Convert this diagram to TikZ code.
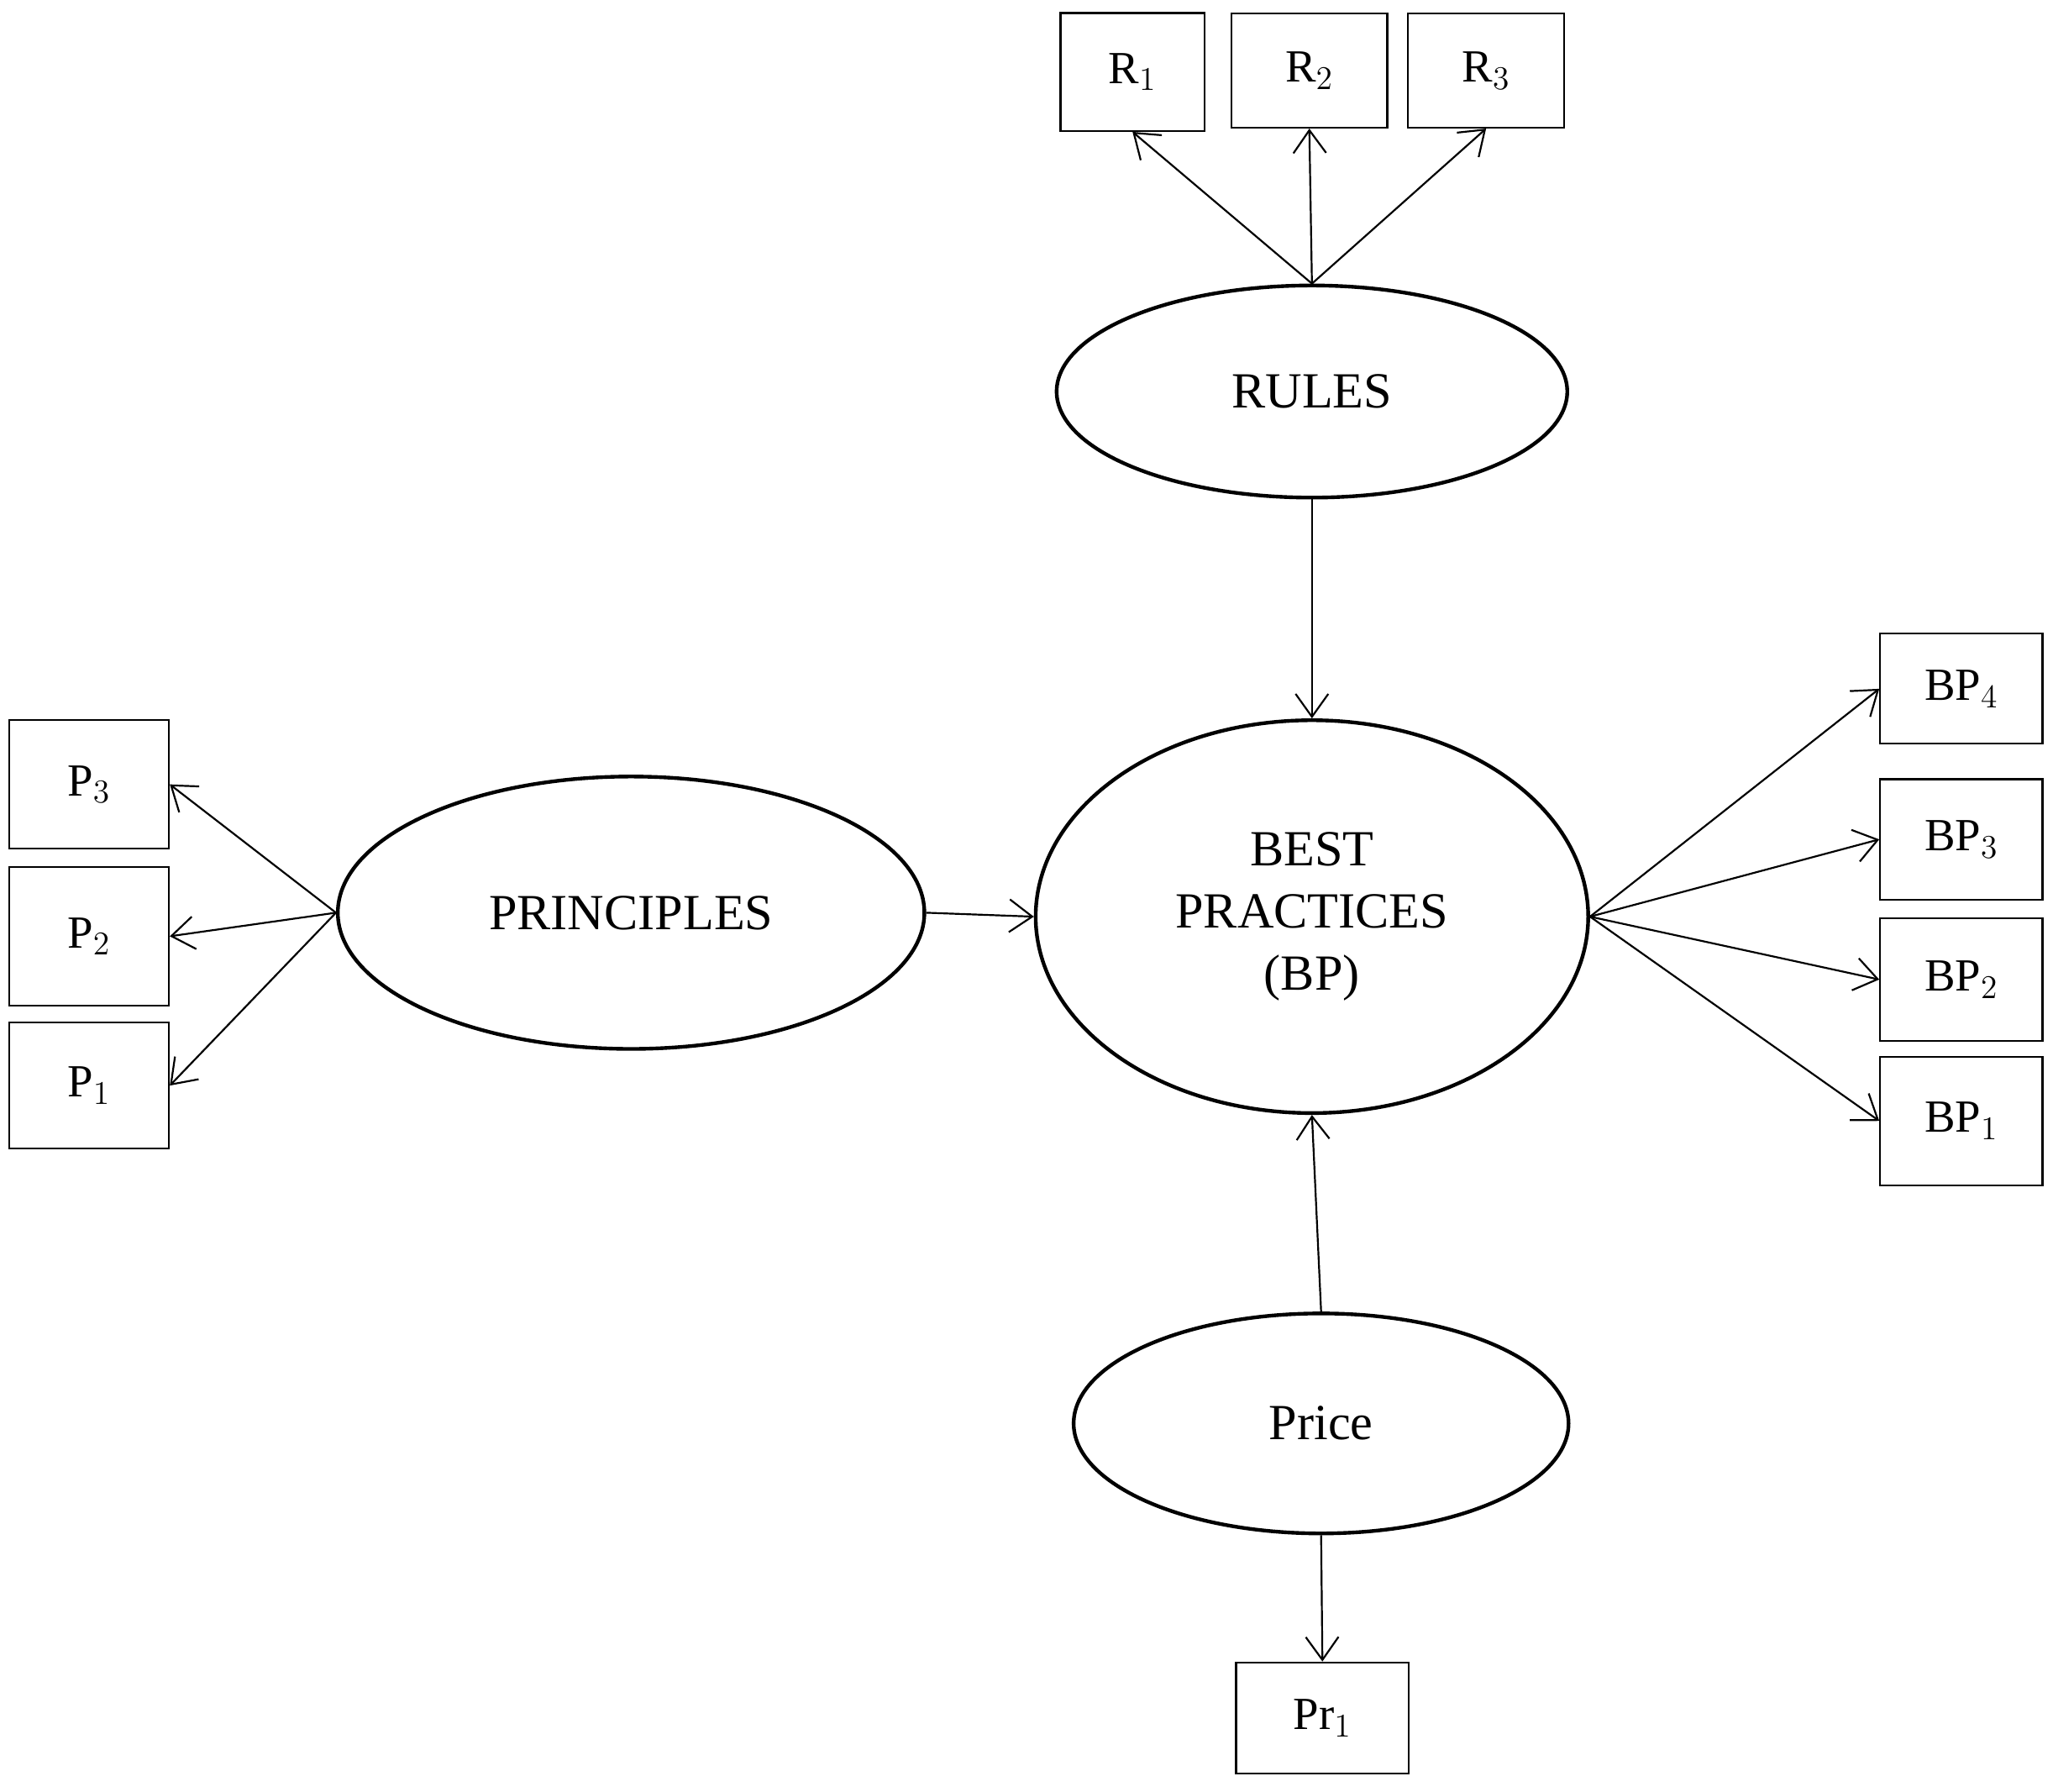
\documentclass[tikz,border=0pt]{standalone}
\usepackage{fontspec}
\setmainfont{Liberation Serif}
\usetikzlibrary{arrows.meta,shapes.geometric}

\tikzset{
	box/.style={draw, thick, inner sep=0pt, font=\fontsize{20}{22}\selectfont},
	oval/.style={draw, ellipse, line width=1.6pt, inner sep=0pt, font=\fontsize{22}{27}\selectfont, align=center},
	link/.style={->, line width=0.8pt}
}

\begin{document}
\begin{tikzpicture}[x=0.02cm, y=-0.02cm, >={Straight Barb[length=3.5mm,width=5mm]}]

\useasboundingbox (0,0) rectangle (1568,1368);

% ellipses
\node[oval, minimum width=390*0.02cm, minimum height=162*0.02cm] (rules) at (1002,299) {RULES};
\node[oval, minimum width=422*0.02cm, minimum height=300*0.02cm] (bp) at (1002,700) {BEST\\PRACTICES\\(BP)};
\node[oval, minimum width=448*0.02cm, minimum height=208*0.02cm] (prin) at (482,697) {PRINCIPLES};
\node[oval, minimum width=378*0.02cm, minimum height=168*0.02cm] (price) at (1009,1087) {Price};

% boxes
\node[box, minimum width=110*0.02cm, minimum height=90*0.02cm] (r1) at (865,55) {R$_1$};
\node[box, minimum width=119*0.02cm, minimum height=87*0.02cm] (r2) at (1000,54) {R$_2$};
\node[box, minimum width=119*0.02cm, minimum height=87*0.02cm] (r3) at (1135,54) {R$_3$};

\node[box, minimum width=122*0.02cm, minimum height=98*0.02cm] (p3) at (68,599) {P$_3$};
\node[box, minimum width=122*0.02cm, minimum height=106*0.02cm] (p2) at (68,715) {P$_2$};
\node[box, minimum width=122*0.02cm, minimum height=96*0.02cm] (p1) at (68,829) {P$_1$};

\node[box, minimum width=124*0.02cm, minimum height=84*0.02cm] (bp4) at (1498,526) {BP$_4$};
\node[box, minimum width=124*0.02cm, minimum height=92*0.02cm] (bp3) at (1498,641) {BP$_3$};
\node[box, minimum width=124*0.02cm, minimum height=94*0.02cm] (bp2) at (1498,748) {BP$_2$};
\node[box, minimum width=124*0.02cm, minimum height=98*0.02cm] (bp1) at (1498,856) {BP$_1$};

\node[box, minimum width=132*0.02cm, minimum height=85*0.02cm] (pr1) at (1010,1312) {Pr$_1$};

% connectors
\foreach \n in {r1,r2,r3}
	\draw[link] (rules.north) -- (\n.south);
\foreach \n in {p1,p2,p3}
	\draw[link] (prin.west) -- (\n.east);
\foreach \n in {bp1,bp2,bp3,bp4}
	\draw[link] (bp.east) -- (\n.west);

\draw[link] (rules.south) -- (bp.north);
\draw[link] (prin.east) -- (bp.west);
\draw[link] (price.north) -- (bp.south);
\draw[link] (price.south) -- (pr1.north);

\end{tikzpicture}
\end{document}
